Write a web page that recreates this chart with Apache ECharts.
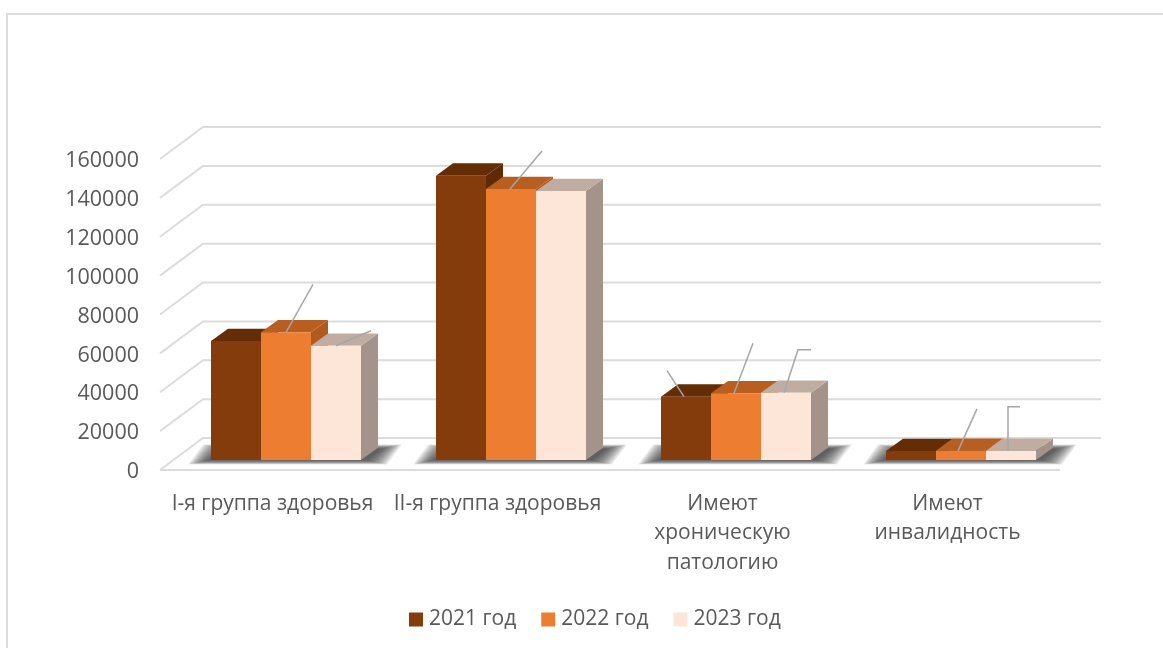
<!DOCTYPE html>
<html><head><meta charset="utf-8">
<style>html,body{margin:0;padding:0;background:#fff}#c{width:1163px;height:648px}</style>
<script src="https://cdn.jsdelivr.net/npm/echarts@6/dist/echarts.min.js"></script>
</head><body><div id="c"></div>
<script>
const categories = ['I-я группа здоровья', 'II-я группа здоровья', 'Имеют\nхроническую\nпатологию', 'Имеют\nинвалидность'];
const seriesNames = ['2021 год', '2022 год', '2023 год'];
const values2021 = [61200, 146300, 32600, 4600];
const values2022 = [65700, 139400, 34300, 4700];
const values2023 = [58800, 138400, 34600, 4700];
const yTicks = [0, 20000, 40000, 60000, 80000, 100000, 120000, 140000, 160000];

// Drawing constants for the pseudo-3D look (offsets in pixels)
const WALL = {dx: 43, dy: -32};
const BAR = {dx: 17, dy: -12.3, inX: 13.5, inY: -10, width: 50};
const COLORS = [
  {front: '#843C0C', top: '#652D05', side: '#5F2A06'},
  {front: '#ED7D31', top: '#B85E20', side: '#B05A20'},
  {front: '#FDE5D8', top: '#BFADA2', side: '#A39388'}
];
// Leader lines of the (empty) data labels: [group, series, [dx,dy]...] relative to the bar's top centre
const leaders = [
  [0, 1, [[0, 0], [27, -48]]],
  [0, 2, [[0, 0], [35, -15]]],
  [1, 1, [[-1, 0], [31, -38]]],
  [2, 0, [[-2, 0], [-19, -26]]],
  [2, 1, [[-2, 0], [17, -50]]],
  [2, 2, [[-2, 0], [12, -43], [25, -43]]],
  [3, 1, [[-3, 0], [16, -42]]],
  [3, 2, [[-3, 0], [-3, -44], [9, -44]]]
];
const FONT = '"Open Sans"';

const chart = echarts.init(document.getElementById('c'), null, {renderer: 'canvas'});

function gridRender(params, api) {
  const v = api.value(0);
  const cs = params.coordSys;
  const p = api.coord([0, v]);
  const y = p[1], x0 = cs.x, x1 = cs.x + cs.width;
  const style = {stroke: '#DCDCDC', lineWidth: 2, fill: null};
  const kids = [{
    type: 'polyline',
    shape: {points: [[x0, y], [x0 + WALL.dx, y + WALL.dy], [x1 + WALL.dx - 2, y + WALL.dy]]},
    style
  }];
  if (v === 0) kids.push({type: 'line', shape: {x1: x0, y1: y, x2: x1, y2: y}, style});
  return {type: 'group', children: kids, silent: true};
}

function shadowRender(params, api) {
  const c = api.coord([api.value(0), 0]);
  const left = c[0] + BAR.inX - BAR.width * 1.5;
  const right = left + BAR.width * 3;
  const y = c[1] + BAR.inY;
  const kids = [];
  for (let k = 15; k >= 0; k--) {
    const ex = k * 1.4, ey = k * 0.3;
    kids.push({
      type: 'polygon',
      shape: {points: [
        [left - 2 - ex, y + ey], [right + 5 + ex, y + ey],
        [right + 20 + ex, y - 11 - ey], [left + 13 - ex, y - 11 - ey]
      ]},
      style: {fill: 'rgba(50,50,50,0.09)'}
    });
  }
  return {type: 'group', children: kids, silent: true};
}

function barRender(sIdx) {
  return function (params, api) {
    const g = api.value(0), v = api.value(1);
    const c0 = api.coord([g, 0]);
    const c1 = api.coord([g, v]);
    const x = c0[0] + BAR.inX - BAR.width * 1.5 + sIdx * BAR.width;
    const yb = c0[1] + BAR.inY, yt = c1[1] + BAR.inY;
    const w = BAR.width, dx = BAR.dx, dy = BAR.dy, col = COLORS[sIdx];
    const kids = [
      {type: 'polygon', shape: {points: [[x + w, yb], [x + w + dx, yb + dy], [x + w + dx, yt + dy], [x + w, yt]]}, style: {fill: col.side}},
      {type: 'polygon', shape: {points: [[x, yt], [x + w, yt], [x + w + dx, yt + dy], [x + dx, yt + dy]]}, style: {fill: col.top}},
      {type: 'rect', shape: {x, y: yt, width: w, height: yb - yt}, style: {fill: col.front}}
    ];
    return {type: 'group', children: kids};
  };
}

function leaderRender(params, api) {
  const i = params.dataIndex, l = leaders[i];
  const vals = [values2021, values2022, values2023][l[1]];
  const c0 = api.coord([l[0], 0]);
  const c1 = api.coord([l[0], vals[l[0]]]);
  const sx = c0[0] + BAR.inX - BAR.width * 1.5 + (l[1] + 0.5) * BAR.width;
  const sy = c1[1] + BAR.inY;
  const pts = l[2].map(o => [sx + o[0], sy + o[1]]);
  return {type: 'polyline', silent: true, shape: {points: pts}, style: {stroke: '#A6A6A6', lineWidth: 1.5, fill: null}};
}

const barData = [values2021, values2022, values2023];
const series = [
  {type: 'custom', name: 'grid', renderItem: gridRender, data: yTicks.map(v => [v]), encode: {y: 0}, silent: true, z: 1, clip: false},
  {type: 'custom', name: 'shadow', renderItem: shadowRender, data: categories.map((c, i) => [i]), encode: {x: 0}, silent: true, z: 2, clip: false}
];
seriesNames.forEach((n, s) => series.push({
  type: 'custom', name: n, renderItem: barRender(s), z: 3 + s, clip: false,
  itemStyle: {color: COLORS[s].front},
  data: barData[s].map((v, i) => [i, v]), encode: {x: 0, y: 1}
}));
series.push({type: 'custom', name: 'leaders', renderItem: leaderRender, data: leaders.map((l, i) => [i]), silent: true, z: 9, clip: false});

chart.setOption({
  animation: false,
  backgroundColor: '#fff',
  textStyle: {fontFamily: FONT},
  graphic: [{type: 'polyline', z: -1, silent: true,
    shape: {points: [[7, 648], [7, 14], [1163, 14]]},
    style: {fill: null, stroke: '#DCDCDC', lineWidth: 2}}],
  grid: {left: 160, top: 159, width: 900, height: 311, containLabel: false},
  xAxis: {type: 'category', data: categories,
    axisLine: {show: false}, axisTick: {show: false}, splitLine: {show: false},
    axisLabel: {color: '#595959', fontSize: 21, fontFamily: FONT, margin: 19, lineHeight: 29.5, interval: 0}},
  yAxis: {type: 'value', min: 0, max: 160000, interval: 20000,
    axisLine: {show: false}, axisTick: {show: false}, splitLine: {show: false},
    axisLabel: {color: '#595959', fontSize: 21.5, fontFamily: FONT, margin: 21, verticalAlign: 'top', lineHeight: 4, formatter: v => String(v)}},
  legend: {data: seriesNames, left: 404, top: 604, icon: 'rect', itemWidth: 14, itemHeight: 14, itemGap: 25,
    textStyle: {color: '#595959', fontSize: 21, fontFamily: FONT, padding: [0, 0, 0, 1]}},
  tooltip: {show: false},
  series
});
</script></body></html>
